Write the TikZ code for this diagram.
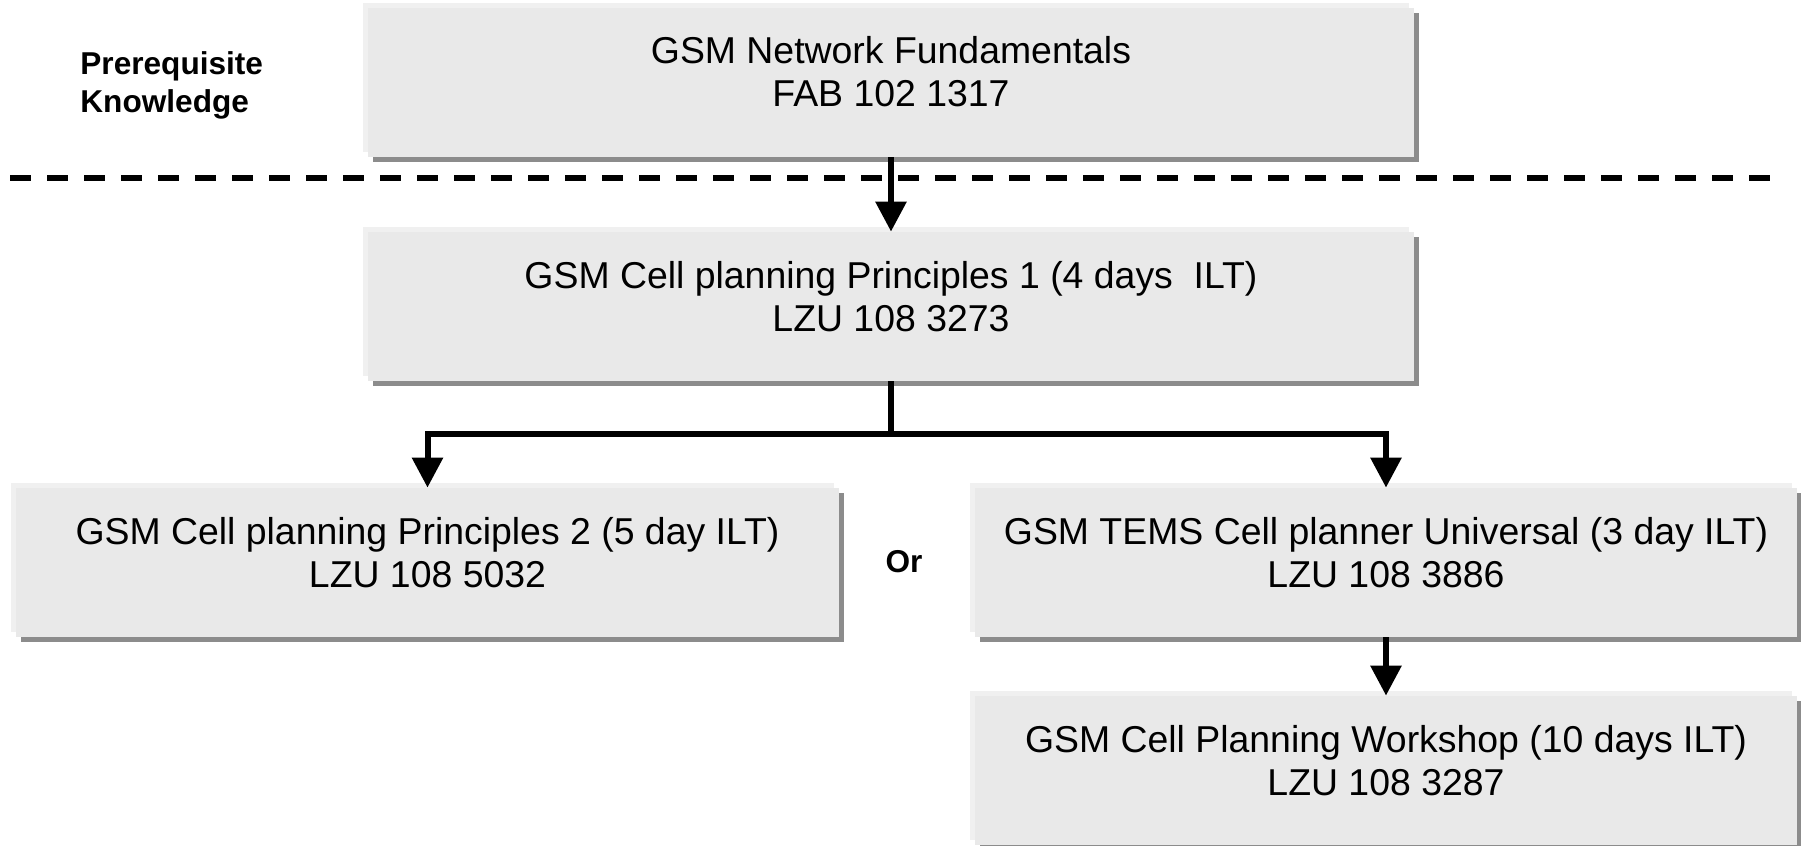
\documentclass[tikz,border=0pt]{standalone}
\usepackage{fontspec}
\setmainfont{Liberation Sans}
\usetikzlibrary{arrows.meta,shadows}
\definecolor{boxfill}{RGB}{233,233,233}
\definecolor{boxlight}{RGB}{240,240,240}
\definecolor{boxshadow}{RGB}{140,140,140}
\begin{document}
\begin{tikzpicture}[x=0.5pt,y=-0.5pt,
  box/.style={draw=none, fill=boxfill, inner sep=0pt, minimum height=74.5pt,
    general shadow={fill=boxlight, shadow xshift=-2.5pt, shadow yshift=2.5pt},
    general shadow={fill=boxshadow, shadow xshift=2.5pt, shadow yshift=-2.5pt}},
  txt/.style={align=center, inner sep=0pt, font=\fontsize{18.7}{21.5}\selectfont},
  lbl/.style={inner sep=0pt, font=\bfseries\fontsize{15.8}{19}\selectfont},
  conn/.style={line width=3pt, black},
  arr/.style={conn, -{Triangle[length=15pt,width=15pt]}},
  sep/.style={line width=3pt, dash pattern=on 10.5pt off 8pt}]
\useasboundingbox (0,0) rectangle (1801,846);
% separator
\draw[sep] (10,178) -- (1770,178);
% boxes
\node[box, minimum width=523pt] (b1) at (891,82.5) {};
\node[box, minimum width=523pt] (b2) at (891,306.5) {};
\node[box, minimum width=411.5pt] (b3) at (427.5,562.5) {};
\node[box, minimum width=411pt] (b4) at (1386,562.5) {};
\node[box, minimum width=411pt] (b5) at (1386,770.5) {};
% texts
\node[txt] (t1) at (891,72) {GSM Network Fundamentals\\FAB 102 1317};
\node[txt] (t2) at (891,297) {GSM Cell planning Principles 1 (4 days\ \ ILT)\\LZU 108 3273};
\node[txt] (t3) at (427.5,553) {GSM Cell planning Principles 2 (5 day ILT)\\LZU 108 5032};
\node[txt] (t4) at (1386,553) {GSM TEMS Cell planner Universal (3 day ILT)\\LZU 108 3886};
\node[txt] (t5) at (1386,761) {GSM Cell Planning Workshop (10 days ILT)\\LZU 108 3287};
\node[lbl, align=left, anchor=west] (pk) at (80,85) {Prerequisite\\Knowledge};
\node[lbl] (or) at (904,562) {Or};
% connectors
\coordinate (j) at (891,434);
\draw[arr] (b1.south) -- (b2.north);
\draw[conn] (b2.south) -- (j);
\draw[arr] (j) -| (b3.north);
\draw[arr] (j) -| (b4.north);
\draw[arr] (b4.south) -- (b5.north);
\end{tikzpicture}
\end{document}
